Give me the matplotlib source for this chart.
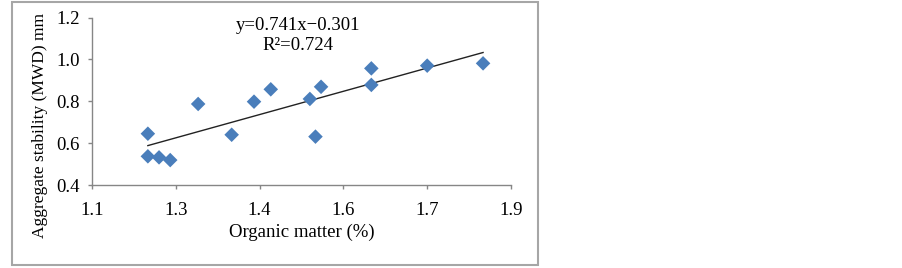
import matplotlib
matplotlib.use("Agg")
import matplotlib.pyplot as plt
import numpy as np
from matplotlib.patches import Rectangle

plt.rcParams['font.family'] = ['Liberation Serif', 'DejaVu Serif']

# data
organic = [1.20, 1.20, 1.22, 1.24, 1.29, 1.35, 1.39, 1.42,
           1.49, 1.50, 1.51, 1.60, 1.60, 1.70, 1.80]
mwd = [0.645, 0.537, 0.532, 0.519, 0.787, 0.640, 0.798, 0.857,
       0.811, 0.631, 0.869, 0.957, 0.878, 0.970, 0.981]
slope, intercept = 0.741, -0.301
x_ticks = [1.1, 1.25, 1.4, 1.55, 1.7, 1.85]
x_tick_labels = ["1.1", "1.3", "1.4", "1.6", "1.7", "1.9"]
y_ticks = [0.4, 0.6, 0.8, 1.0, 1.2]
y_tick_labels = ["0.4", "0.6", "0.8", "1.0", "1.2"]

W, H = 903, 268
fig = plt.figure(figsize=(W / 100, H / 100), dpi=100)
ax = fig.add_axes([92 / W, 1 - 185 / H, (511 - 92) / W, (185 - 17.5) / H])

ax.scatter(organic, mwd, marker='D', s=55, color='#4a7ebb', edgecolors='none', zorder=3)
xs = np.array([min(organic), max(organic)])
ax.plot(xs, slope * xs + intercept, color='#222222', lw=1.0, zorder=2)

ax.set_xlim(1.1, 1.85)
ax.set_ylim(0.4, 1.2)
ax.set_xticks(x_ticks)
ax.set_xticklabels(x_tick_labels)
ax.set_yticks(y_ticks)
ax.set_yticklabels(y_tick_labels)
ax.tick_params(axis='both', labelsize=13.5, color='#868686', length=3, width=1)
ax.tick_params(axis='x', pad=9)
ax.tick_params(axis='y', pad=6)

for s in ['top', 'right']:
    ax.spines[s].set_visible(False)
for s in ['left', 'bottom']:
    ax.spines[s].set_color('#868686')
    ax.spines[s].set_linewidth(1)

fig.text(302 / W, 1 - 232 / H, "Organic matter (%)", ha='center', va='center', fontsize=13.5)
fig.text(40 / W, 1 - 126 / H, "Aggregate stability (MWD) mm", ha='center', va='center',
         rotation=90, fontsize=12.5)

fig.text(298 / W, 1 - 25 / H, "y=0.741x\u22120.301", ha='center', va='center', fontsize=13.5)
fig.text(298 / W, 1 - 46 / H, "R\u00b2=0.724", ha='center', va='center', fontsize=13.5)

# outer frame of the chart
fig.patches.append(Rectangle((12 / W, 1 - 265 / H), (538 - 12) / W, (265 - 2) / H,
                             transform=fig.transFigure, fill=False,
                             edgecolor='#a6a6a6', lw=1.5))

fig.savefig("out.png", dpi=100)
